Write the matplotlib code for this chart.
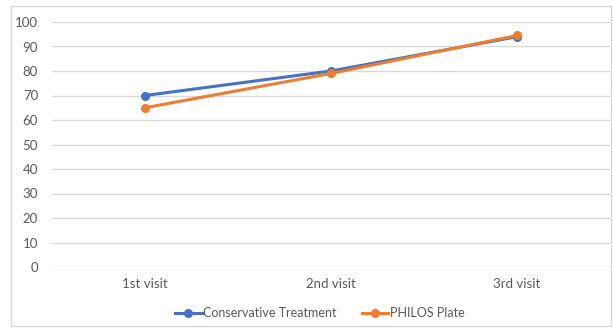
import matplotlib.pyplot as plt
from matplotlib.patches import Rectangle

visits = ["1st visit", "2nd visit", "3rd visit"]
conservative = [70, 80, 94]
philos = [65, 79, 94.5]
y_ticks = list(range(0, 101, 10))

plt.rcParams['font.family'] = ['Lato', 'DejaVu Sans']

fig = plt.figure(figsize=(6.13, 3.33), dpi=100)
ax = fig.add_axes([52 / 613, 1 - 267 / 333, 558 / 613, 245 / 333])

x = range(len(visits))
ax.plot(x, conservative, color='#4472C4', lw=2.2, marker='o', ms=5.5,
        label='Conservative Treatment', zorder=3)
ax.plot(x, philos, color='#ED7D31', lw=2.2, marker='o', ms=5.5,
        label='PHILOS Plate', zorder=4)

ax.set_xlim(-0.5, 2.5)
ax.set_ylim(0, 100)
ax.set_yticks(y_ticks)
ax.set_xticks(list(x))
ax.set_xticklabels(visits)
ax.grid(axis='y', color='#D9D9D9', lw=1)
ax.set_axisbelow(True)
for s in ax.spines.values():
    s.set_visible(False)
ax.tick_params(length=0, colors='#595959', labelsize=9.5)
ax.tick_params(axis='y', pad=10)
ax.tick_params(axis='x', pad=8)

fig.legend(loc='center', bbox_to_anchor=(320 / 613, 1 - 313 / 333), ncol=2,
           frameon=False, fontsize=9, labelcolor='#595959',
           handlelength=2.1, handletextpad=0.15, columnspacing=2.0)

fig.patches.append(Rectangle((11 / 613, 1 - 326 / 333), 600 / 613, 320 / 333,
                             transform=fig.transFigure, fill=False,
                             edgecolor='#D9D9D9', lw=1))

fig.savefig('out.png', dpi=100)
